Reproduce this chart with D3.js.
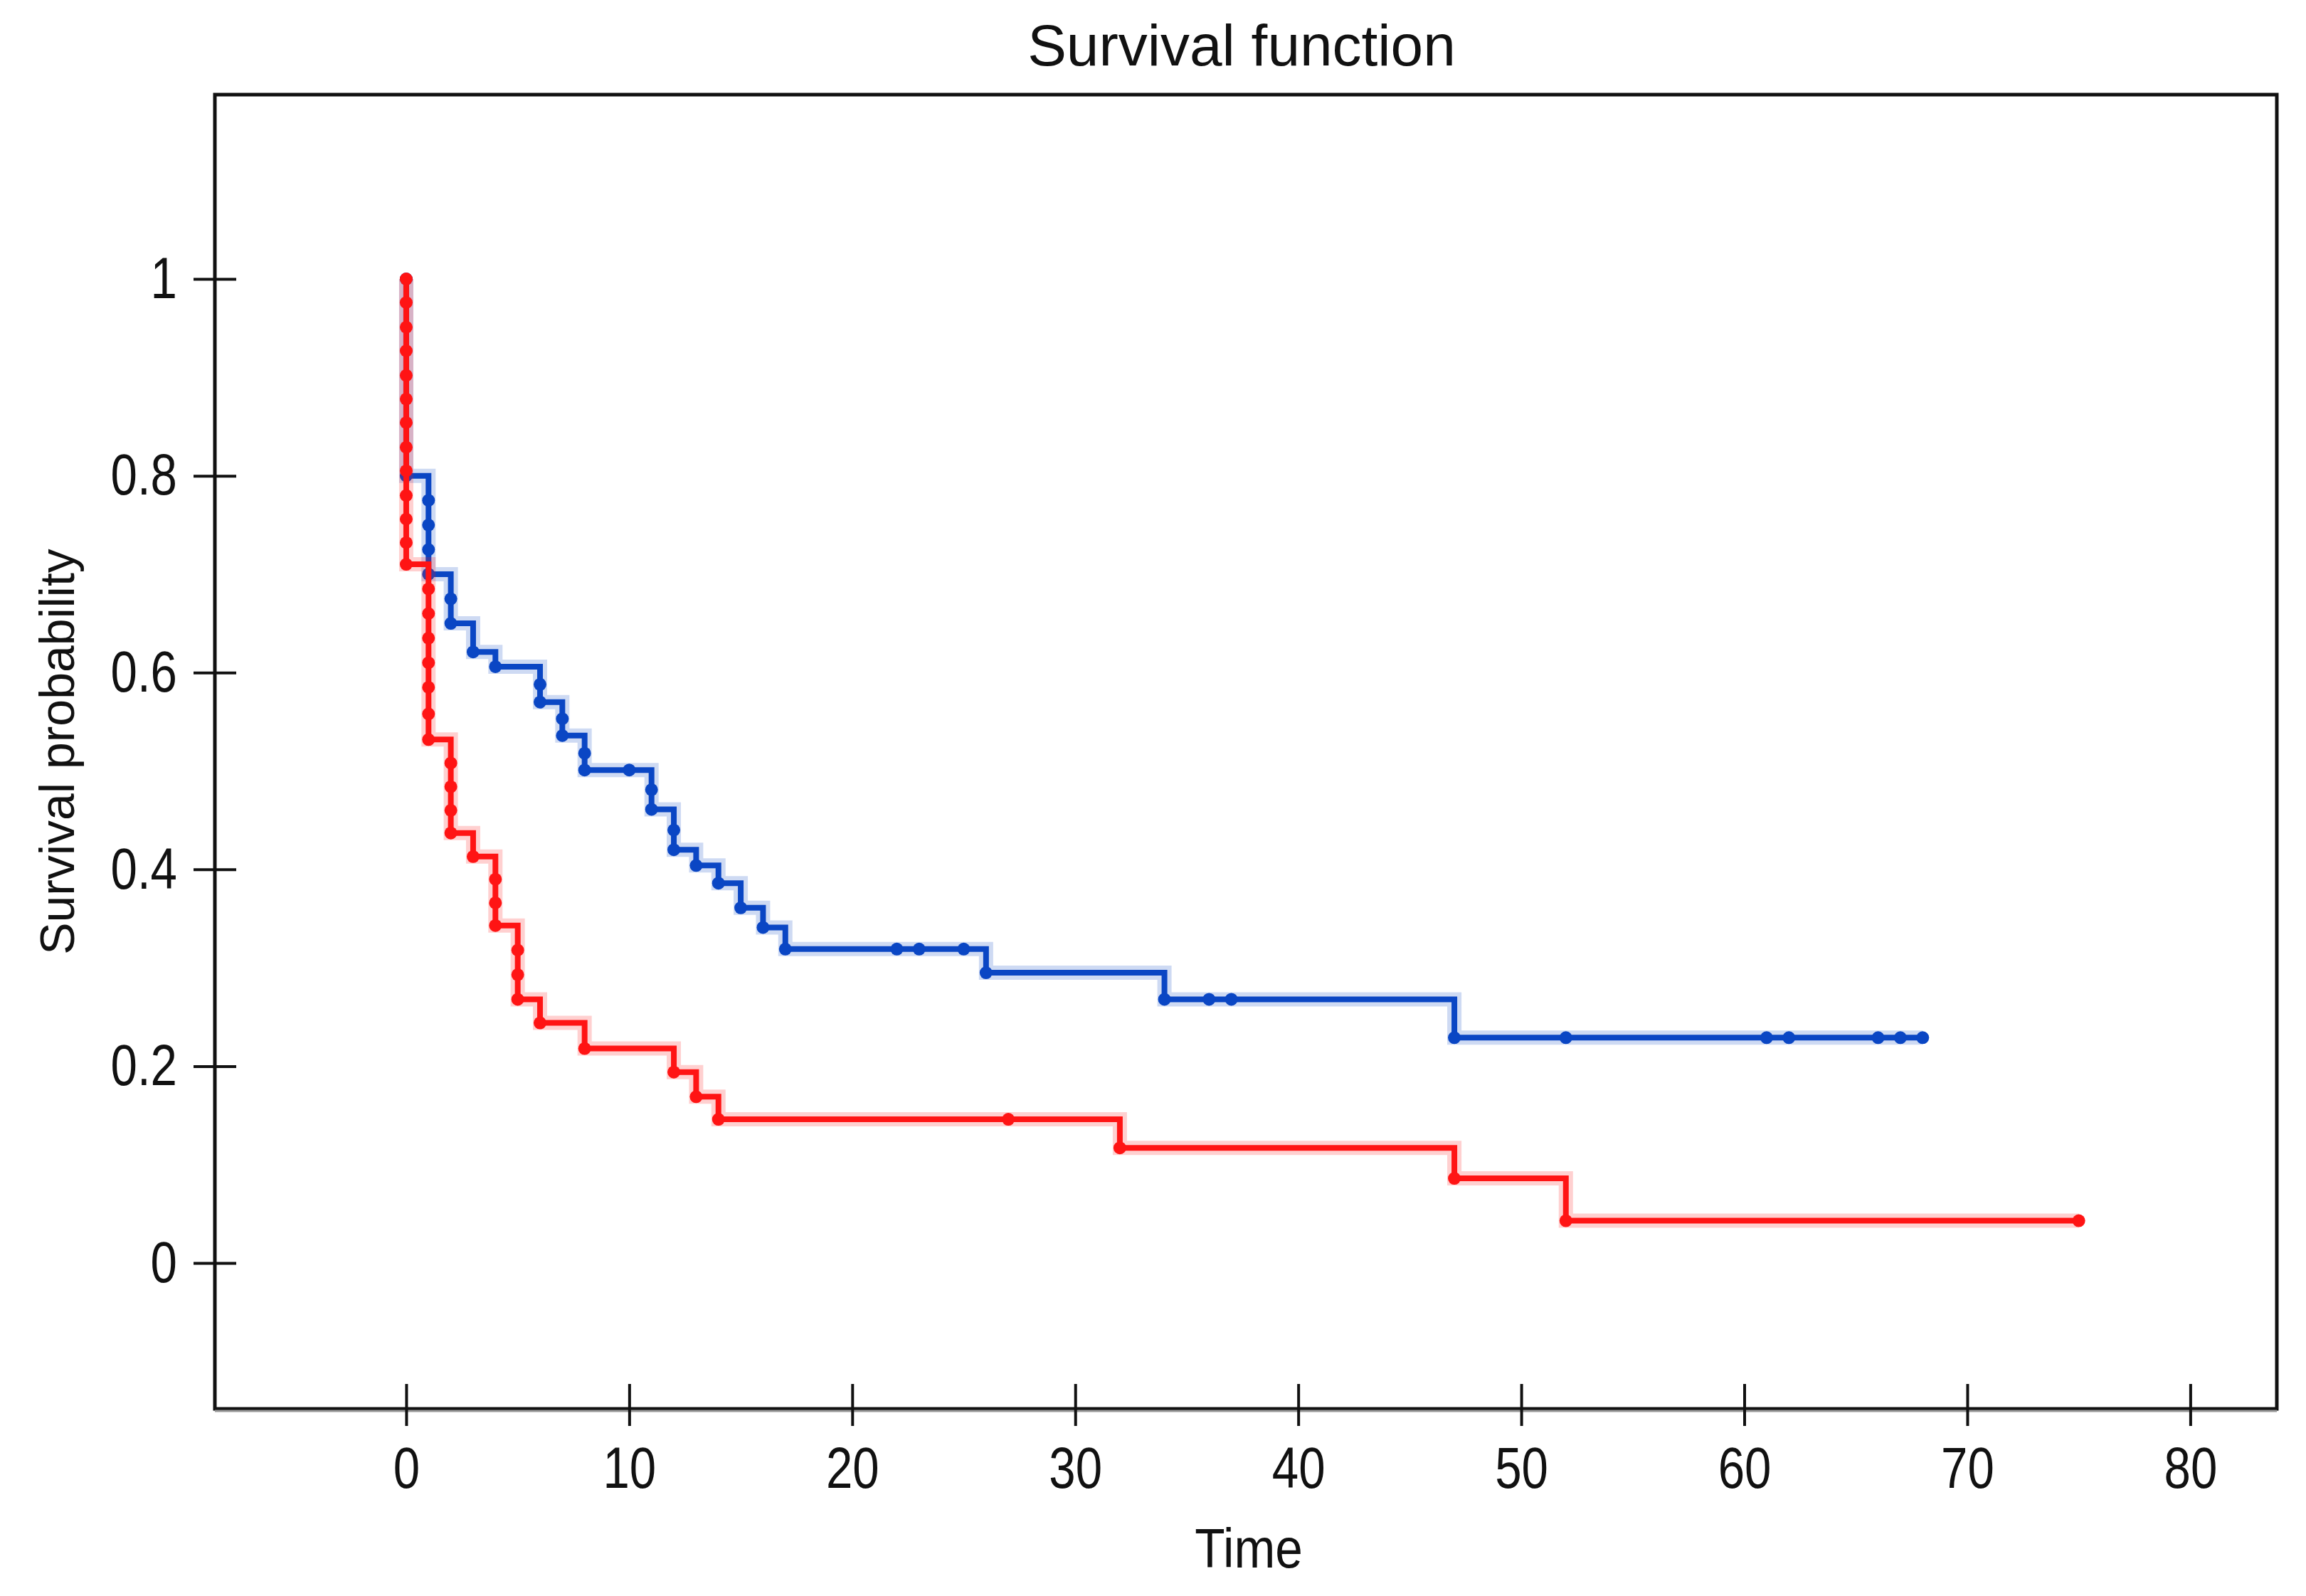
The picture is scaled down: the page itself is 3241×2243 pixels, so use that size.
<!DOCTYPE html>
<html>
<head>
<meta charset="utf-8">
<script src="https://cdn.jsdelivr.net/npm/d3@7"></script>
<style>
body { margin: 0; background: white; }
text { font-family: "Liberation Sans", Arial, sans-serif; fill: #111; }
</style>
</head>
<body>
<svg></svg>
<script>
var screen = {width: 3241, height: 2243};
var margins = {top: 133, right: 41, bottom: 263, left: 302};

// tick values
var xTicks = [0, 10, 20, 30, 40, 50, 60, 70, 80];
var yTicks = [0, 0.2, 0.4, 0.6, 0.8, 1];

// blue group, one entry per marker (time, survival)
var blueTime = [0, 0,
    1, 1, 1, 1, 2, 2, 3, 4, 6, 6, 7, 7, 8, 8, 10,
    11, 11, 12, 12, 13, 14, 15, 16, 17, 22, 23, 25,
    26, 34, 36, 37, 47, 52, 61, 62, 66, 67, 68];
var blueSurv = [1, 0.8,
    0.775, 0.75, 0.725, 0.70, 0.675, 0.65, 0.621, 0.606, 0.588, 0.570, 0.553, 0.536, 0.518, 0.501, 0.501,
    0.481, 0.461, 0.44, 0.42, 0.404, 0.386, 0.361, 0.341, 0.319, 0.319, 0.319, 0.319,
    0.295, 0.268, 0.268, 0.268, 0.229, 0.229, 0.229, 0.229, 0.229, 0.229, 0.229];

// red group
var redTime = [0, 0, 0, 0, 0, 0, 0, 0, 0, 0, 0, 0, 0,
    1, 1, 1, 1, 1, 1, 1, 2, 2, 2, 2, 3, 4, 4, 4, 5, 5, 5,
    6, 8, 12, 13, 14, 27, 32, 47, 52, 75];
var redSurv = [1, 0.976, 0.951, 0.927, 0.902, 0.878, 0.854, 0.829, 0.805, 0.780, 0.756, 0.732, 0.710,
    0.685, 0.66, 0.635, 0.61, 0.585, 0.558, 0.532, 0.508, 0.484, 0.46, 0.437, 0.413, 0.390, 0.366, 0.343, 0.318, 0.293, 0.268,
    0.244, 0.218, 0.194, 0.169, 0.146, 0.146, 0.117, 0.086, 0.043, 0.043];

var blueColor = "#0a46c4";
var redColor = "#ff1414";
var narrow = 0.82;

var setup = function()
{
    var svg = d3.select("svg")
        .attr("width", screen.width)
        .attr("height", screen.height);

    var width = screen.width - margins.left - margins.right;
    var height = screen.height - margins.top - margins.bottom;

    var xScale = d3.scaleLinear()
                    .domain([-8.58, 83.88])
                    .range([0, width]);

    var yScale = d3.scaleLinear()
                    .domain([-0.1482, 1.1873])
                    .range([height, 0]);

    var graph = svg.append("g")
        .attr("id", "graph")
        .attr("transform", "translate(" + margins.left + "," + margins.top + ")");

    // frame
    graph.append("rect")
        .attr("width", width)
        .attr("height", height)
        .attr("fill", "none")
        .attr("stroke", "#111")
        .attr("stroke-width", 5);

    graph.append("line")
        .attr("x1", 0).attr("x2", width)
        .attr("y1", height + 3).attr("y2", height + 3)
        .attr("stroke", "#999")
        .attr("stroke-width", 3);

    var xAxis = d3.axisBottom(xScale)
        .tickValues(xTicks)
        .tickSize(24)
        .tickPadding(29)
        .tickFormat(d3.format("d"));

    var yAxis = d3.axisLeft(yScale)
        .tickValues(yTicks)
        .tickSize(30)
        .tickPadding(23)
        .tickFormat(function(d) { return d3.format("~g")(d); });

    var gx = graph.append("g")
        .attr("id", "xAxis")
        .attr("transform", "translate(0," + height + ")")
        .call(xAxis);
    gx.select(".domain").remove();
    gx.selectAll("line").attr("y1", -35).attr("stroke", "#111").attr("stroke-width", 4);
    gx.selectAll("text")
        .attr("font-size", 82)
        .attr("font-family", null)
        .attr("transform", "scale(" + narrow + ",1)");

    var gy = graph.append("g")
        .attr("id", "yAxis")
        .call(yAxis);
    gy.select(".domain").remove();
    gy.selectAll("line").attr("x1", 30).attr("stroke", "#111").attr("stroke-width", 4);
    gy.selectAll("text")
        .attr("font-size", 82)
        .attr("font-family", null)
        .attr("x", -53 / narrow)
        .attr("transform", "scale(" + narrow + ",1)");

    // titles
    svg.append("text")
        .attr("x", 1745)
        .attr("y", 92)
        .attr("text-anchor", "middle")
        .attr("font-size", 82)
        .text("Survival function");

    svg.append("text")
        .attr("transform", "translate(1755,2203) scale(0.89,1)")
        .attr("text-anchor", "middle")
        .attr("font-size", 78)
        .text("Time");

    svg.append("text")
        .attr("transform", "translate(104," + (margins.top + height / 2) + ") rotate(-90)")
        .attr("text-anchor", "middle")
        .attr("font-size", 68)
        .text("Survival probability");

    drawCurve(graph, d3.zip(blueTime, blueSurv), xScale, yScale, blueColor);
    drawCurve(graph, d3.zip(redTime, redSurv), xScale, yScale, redColor);
}

var drawCurve = function(graph, points, xScale, yScale, color)
{
    var line = d3.line()
        .x(function(d) { return xScale(d[0]); })
        .y(function(d) { return yScale(d[1]); })
        .curve(d3.curveStepAfter);

    var g = graph.append("g");

    g.append("path")
        .datum(points)
        .attr("d", line)
        .attr("fill", "none")
        .attr("stroke", color)
        .attr("stroke-opacity", 0.2)
        .attr("stroke-width", 20);

    g.append("path")
        .datum(points)
        .attr("d", line)
        .attr("fill", "none")
        .attr("stroke", color)
        .attr("stroke-width", 8);

    g.selectAll("circle")
        .data(points)
        .enter()
        .append("circle")
        .attr("cx", function(d) { return xScale(d[0]); })
        .attr("cy", function(d) { return yScale(d[1]); })
        .attr("r", 9)
        .attr("fill", color);
}

setup();
</script>
</body>
</html>
